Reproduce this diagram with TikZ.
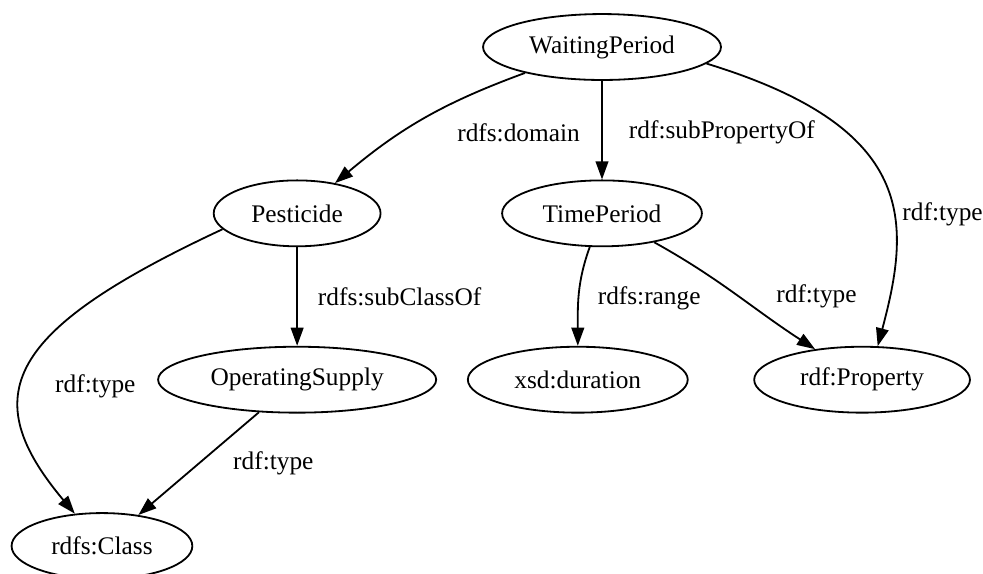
\documentclass[tikz,border=0pt]{standalone}
\usepackage{fontspec}
\setmainfont{Liberation Serif}
\usepackage{tikz}
\usetikzlibrary{arrows.meta,shapes.geometric}

\begin{document}
\begin{tikzpicture}[>={Triangle[length=10pt,width=7pt]},line width=1pt,node distance=3.23cm,
		term/.style={ellipse,draw,inner sep=0pt,minimum height=1.28cm,font=\fontsize{14}{16}\selectfont},
		lbl/.style={inner sep=0pt,font=\fontsize{14}{16}\selectfont}]
			\useasboundingbox (-11.69,0.913) rectangle (7.398,-10.214);

  			\node[term, minimum width=4.62cm] (wp) []                                   {WaitingPeriod};
  			\node[term, minimum width=3.88cm] (tp) [below of=wp]                        {TimePeriod};
  			\node[term, minimum width=3.24cm] (pe) [left of=tp, node distance=5.92cm]   {Pesticide};
  			\node[term, minimum width=5.40cm] (os) [below of=pe]                        {OperatingSupply};
  			\node[term, minimum width=3.51cm] (cl) [below of=os, xshift=-3.79cm]        {rdfs:Class};
  			\node[term, minimum width=4.27cm] (du) [below of=tp, xshift=-0.47cm]        {xsd:duration};
  			\node[term, minimum width=4.19cm] (pr) [below of=tp, xshift=5.05cm]         {rdf:Property};

  			\path[->]
  					(wp) edge [bend right=10] node[lbl, right=17.7pt, yshift=-7.7pt] {rdfs:domain} (pe)
  					     edge node[lbl, right=14.4pt, yshift=-1pt] {rdf:subPropertyOf} (tp)
  					(wp.-9) edge [out=-17, in=75, out distance=4.27cm, in distance=2.52cm]
  					     node[lbl, pos=.6, right=5pt, yshift=-2pt] {rdf:type} (pr.65)
  					(pe) edge node[lbl, right=11pt] {rdfs:subClassOf} (os)
  					(pe.192) edge [out=205, in=130, out distance=4.66cm, in distance=3cm]
  					     node[lbl, pos=.58, right=17.7pt] {rdf:type} (cl)
  					(os) edge node[lbl, right=18.6pt] {rdf:type} (cl)
  					(tp) edge [out=250, in=90] node[lbl, right=10pt, yshift=-1.6pt] {rdfs:range} (du)
  					     edge [out=-29, in=147] node[lbl, right=22pt, yshift=-1.4pt] {rdf:type} (pr);

		\end{tikzpicture}
\end{document}
